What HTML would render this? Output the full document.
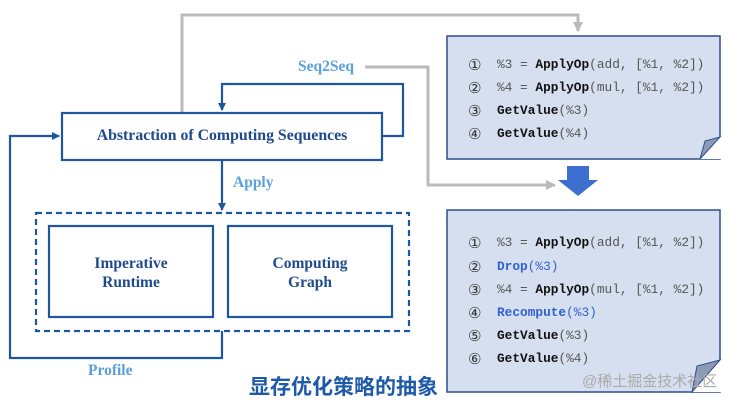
<!DOCTYPE html>
<html><head><meta charset="utf-8"><style>
body{margin:0;width:731px;height:403px;background:#fff;overflow:hidden;position:relative;font-family:"Liberation Serif",serif}
.t{position:absolute;font-weight:bold}
.code{position:absolute;font-family:"Liberation Mono",monospace;font-size:12.8px;color:#555;white-space:pre}
.code b{color:#111}
.code .bl{color:#2f62d0}
.n{position:absolute;font-family:"Liberation Sans","DejaVu Sans",sans-serif;font-size:15px;color:#333}
</style></head><body>
<svg width="731" height="403" style="position:absolute;left:0;top:0">
<defs>
<marker id="ab" markerWidth="8" markerHeight="8" refX="7" refY="4" orient="auto" markerUnits="userSpaceOnUse"><path d="M0,0L8,4L0,8z" fill="#1f56a0"/></marker>
<marker id="ag" markerWidth="10" markerHeight="10" refX="9" refY="5" orient="auto" markerUnits="userSpaceOnUse"><path d="M0,0L10,5L0,10z" fill="#bbb"/></marker>
</defs>
<g fill="none" stroke-width="3" stroke="#bbb">
<polyline points="182,113 182,15 578,15 578,31" marker-end="url(#ag)"/>
<polyline points="365,67 428,67 428,185 555,185" marker-end="url(#ag)"/>
</g>
<rect x="447" y="36" width="273" height="123" fill="#d6dff0" stroke="#2b4f8a" stroke-width="1.5"/>
<path d="M720,137L700,159H722V137Z" fill="#fff"/>
<path d="M720,137L700,159L705,141Z" fill="#8d9ab5" stroke="#2b4f8a" stroke-width="1"/>
<rect x="447" y="210" width="273" height="182" fill="#d6dff0" stroke="#2b4f8a" stroke-width="1.5"/>
<path d="M720,360L692,392H722V360Z" fill="#fff"/>
<path d="M720,360L692,392L697,366Z" fill="#8d9ab5" stroke="#2b4f8a" stroke-width="1"/>
<path d="M567,166H589V180H598L578,196L558,180H567Z" fill="#3d6fd0"/>
<g fill="none" stroke="#1f56a0" stroke-width="2.2">
<rect x="62" y="113" width="320" height="47" fill="#fff"/>
<polyline points="382,136 403,136 403,84 222,84 222,110" marker-end="url(#ab)"/>
<polyline points="222,331 222,358 10,358 10,136 59,136" marker-end="url(#ab)"/>
<polyline points="222,160 222,210" marker-end="url(#ab)"/>
<rect x="36" y="213" width="373" height="118" stroke-dasharray="6,4"/>
<rect x="49" y="226" width="164" height="91"/>
<rect x="228" y="226" width="164" height="91"/>
</g>
</svg>
<div class="t" style="left:62px;width:320px;top:127px;text-align:center;font-size:15.8px;color:#1f4a8c">Abstraction of Computing Sequences</div>
<div class="t" style="left:298px;top:58px;font-size:15.5px;color:#5aa0dc">Seq2Seq</div>
<div class="t" style="left:233px;top:174px;font-size:15.5px;color:#5aa0dc">Apply</div>
<div class="t" style="left:88px;top:362px;font-size:15.5px;color:#5aa0dc">Profile</div>
<div class="t" style="left:49px;width:164px;top:254px;text-align:center;font-size:15.5px;line-height:19px;color:#1f4a8c">Imperative<br>Runtime</div>
<div class="t" style="left:228px;width:164px;top:254px;text-align:center;font-size:15.5px;line-height:19px;color:#1f4a8c">Computing<br>Graph</div>
<div class="t" style="left:249px;top:371px;font-size:21px;color:#1f5aa8;font-family:'Liberation Sans','Noto Sans CJK SC',sans-serif">显存优化策略的抽象</div>
<div class="n" style="left:468px;top:56px">①</div><div class="code" style="left:497px;top:57px">%3 = <b>ApplyOp</b>(add, [%1, %2])</div>
<div class="n" style="left:468px;top:79px">②</div><div class="code" style="left:497px;top:80px">%4 = <b>ApplyOp</b>(mul, [%1, %2])</div>
<div class="n" style="left:468px;top:102px">③</div><div class="code" style="left:497px;top:103px"><b>GetValue</b>(%3)</div>
<div class="n" style="left:468px;top:125px">④</div><div class="code" style="left:497px;top:126px"><b>GetValue</b>(%4)</div>
<div class="n" style="left:468px;top:234px">①</div><div class="code" style="left:497px;top:235px">%3 = <b>ApplyOp</b>(add, [%1, %2])</div>
<div class="n" style="left:468px;top:258px">②</div><div class="code" style="left:497px;top:259px"><b class="bl">Drop</b><span class="bl">(%3)</span></div>
<div class="n" style="left:468px;top:281px">③</div><div class="code" style="left:497px;top:282px">%4 = <b>ApplyOp</b>(mul, [%1, %2])</div>
<div class="n" style="left:468px;top:304px">④</div><div class="code" style="left:497px;top:305px"><b class="bl">Recompute</b><span class="bl">(%3)</span></div>
<div class="n" style="left:468px;top:327px">⑤</div><div class="code" style="left:497px;top:328px"><b>GetValue</b>(%3)</div>
<div class="n" style="left:468px;top:350px">⑥</div><div class="code" style="left:497px;top:351px"><b>GetValue</b>(%4)</div>
<div style="position:absolute;left:582px;top:370px;font-size:15px;color:#aaa;font-family:'Liberation Sans','Noto Sans CJK SC',sans-serif">@稀土掘金技术社区</div>
</body></html>
